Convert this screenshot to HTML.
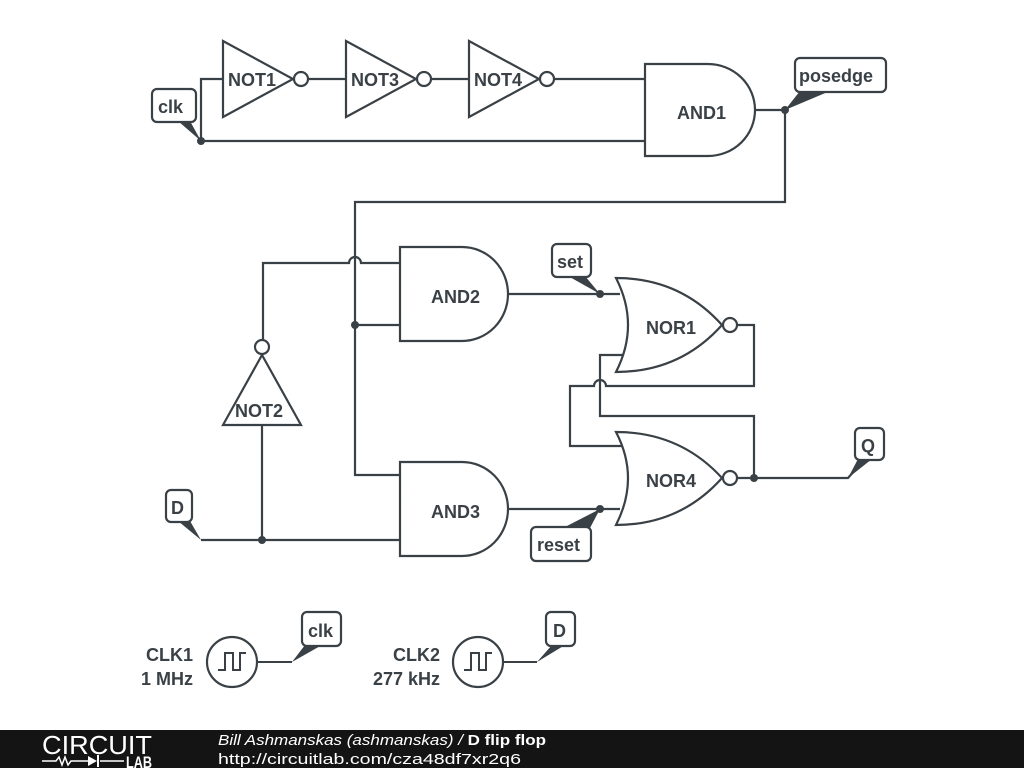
<!DOCTYPE html>
<html><head><style>
body{margin:0;width:1024px;height:768px;background:#fff;overflow:hidden;font-family:"Liberation Sans",sans-serif}
svg text{font-family:"Liberation Sans",sans-serif;font-weight:bold;fill:#3a4146}
</style></head><body>
<svg width="1024" height="768" viewBox="0 0 1024 768" xmlns="http://www.w3.org/2000/svg">
<g fill="none" stroke="#3a4146" stroke-width="2.2">
<polygon points="223,41 223,117 293,79"/><circle cx="301" cy="79" r="7"/>
<polygon points="346,41 346,117 416,79"/><circle cx="424" cy="79" r="7"/>
<polygon points="469,41 469,117 539,79"/><circle cx="547" cy="79" r="7"/>
<line x1="308" y1="79" x2="346" y2="79"/><line x1="431" y1="79" x2="469" y2="79"/><line x1="554" y1="79" x2="645" y2="79"/>
<path d="M645,64 H708 A47,46 0 0 1 708,156 H645 Z"/>
<path d="M223,79 H201 V141 H645"/>
<path d="M755,110 H785 V202 H355 V475 H400"/>
<path d="M400,247 H462 A46,47 0 0 1 462,341 H400 Z"/>
<path d="M400,462 H462 A46,47 0 0 1 462,556 H400 Z"/>
<path d="M263,340 V263 H349 A6,6 0 0 1 361,263 H400"/>
<line x1="355" y1="325" x2="400" y2="325"/>
<line x1="508" y1="294" x2="620" y2="294"/>
<line x1="508" y1="509" x2="620" y2="509"/>
<polygon points="223,425 301,425 262,355"/><circle cx="262" cy="347" r="7"/>
<path d="M262,425 V540"/><path d="M201,540 H400"/>
<path d="M616,278 Q680,278 722,325 Q680,372 616,372 Q640,325 616,278 Z"/><circle cx="730" cy="325" r="7"/>
<path d="M616,432 Q680,432 722,478 Q680,525 616,525 Q640,478 616,432 Z"/><circle cx="730" cy="478" r="7"/>
<path d="M737,325 H754 V386 H606 A6,6 0 0 0 594,386 H570 V446 H623"/>
<path d="M623,355 H600 V416 H754 V478"/>
<path d="M737,478 H848 L862,462"/>
</g>
<g fill="#3a4146">
<circle cx="201" cy="141" r="4"/><circle cx="785" cy="110" r="4"/><circle cx="355" cy="325" r="4"/>
<circle cx="262" cy="540" r="4"/><circle cx="600" cy="294" r="4"/><circle cx="600" cy="509" r="4"/>
<circle cx="754" cy="478" r="4"/>
<polygon points="178,121 190,121 201,141"/>
<polygon points="800,91 830,91 785,110"/>
<polygon points="568,276 585,276 600,294"/>
<polygon points="563,528 590,528 600,509"/>
<polygon points="178,521 190,521 201,540"/>
<polygon points="858,459 872,459 848,478"/>
<polygon points="305,645 322,645 292,662"/>
<polygon points="552,645 565,645 537,662"/>
</g>
<g fill="#fff" stroke="#3a4146" stroke-width="2.2">
<rect x="152" y="89" width="44" height="33" rx="5"/>
<rect x="795" y="58" width="91" height="34" rx="5"/>
<rect x="552" y="244" width="39" height="33" rx="5"/>
<rect x="531" y="527" width="60" height="34" rx="5"/>
<rect x="166" y="490" width="26" height="32" rx="5"/>
<rect x="855" y="428" width="29" height="32" rx="5"/>
<rect x="302" y="612" width="39" height="34" rx="5"/>
<rect x="546" y="612" width="29" height="34" rx="5"/>
<circle cx="232" cy="662" r="25"/><circle cx="478" cy="662" r="25"/>
</g>
<g fill="none" stroke="#3a4146" stroke-width="2">
<path d="M218,670 H225 V653 H233 V670 H240 V653 H246"/>
<path d="M464,670 H471 V653 H479 V670 H486 V653 H492"/>
<path d="M257,662 H292"/><path d="M503,662 H537"/>
</g>
<g font-size="18">
<text x="228" y="86">NOT1</text><text x="351" y="86">NOT3</text><text x="474" y="86">NOT4</text>
<text x="677" y="119">AND1</text><text x="431" y="303">AND2</text><text x="431" y="518">AND3</text>
<text x="646" y="334">NOR1</text><text x="646" y="487">NOR4</text><text x="235" y="417">NOT2</text>
<text x="158" y="113">clk</text><text x="799" y="82">posedge</text><text x="557" y="268">set</text>
<text x="537" y="551">reset</text><text x="171" y="514">D</text><text x="861" y="452">Q</text>
<text x="308" y="637">clk</text><text x="553" y="637">D</text>
<text x="193" y="661" text-anchor="end">CLK1</text><text x="193" y="685" text-anchor="end">1 MHz</text>
<text x="440" y="661" text-anchor="end">CLK2</text><text x="440" y="685" text-anchor="end">277 kHz</text>
</g>
<rect x="0" y="730" width="1024" height="38" fill="#141414"/>
<text x="42" y="754" font-size="26" style="font-weight:normal;fill:#fff" textLength="110" lengthAdjust="spacingAndGlyphs">CIRCUIT</text>
<path d="M42,761 H56 l3,-4 3,8 3,-8 3,8 3,-4 H88 M100,761 H124" stroke="#fff" stroke-width="1.5" fill="none"/>
<polygon points="88,756 88,766 97,761" fill="#fff"/><line x1="98" y1="755" x2="98" y2="767" stroke="#fff" stroke-width="2"/>
<text x="126" y="768" font-size="17" style="fill:#fff" textLength="26" lengthAdjust="spacingAndGlyphs">LAB</text>
<text x="218" y="745" font-size="15" style="fill:#fff;font-weight:normal;font-style:italic" textLength="328" lengthAdjust="spacingAndGlyphs">Bill Ashmanskas (ashmanskas) / <tspan style="font-weight:bold;font-style:normal">D flip flop</tspan></text>
<text x="218" y="764" font-size="15" style="fill:#fff;font-weight:normal" textLength="303" lengthAdjust="spacingAndGlyphs">http://circuitlab.com/cza48df7xr2q6</text>
</svg>
</body></html>
